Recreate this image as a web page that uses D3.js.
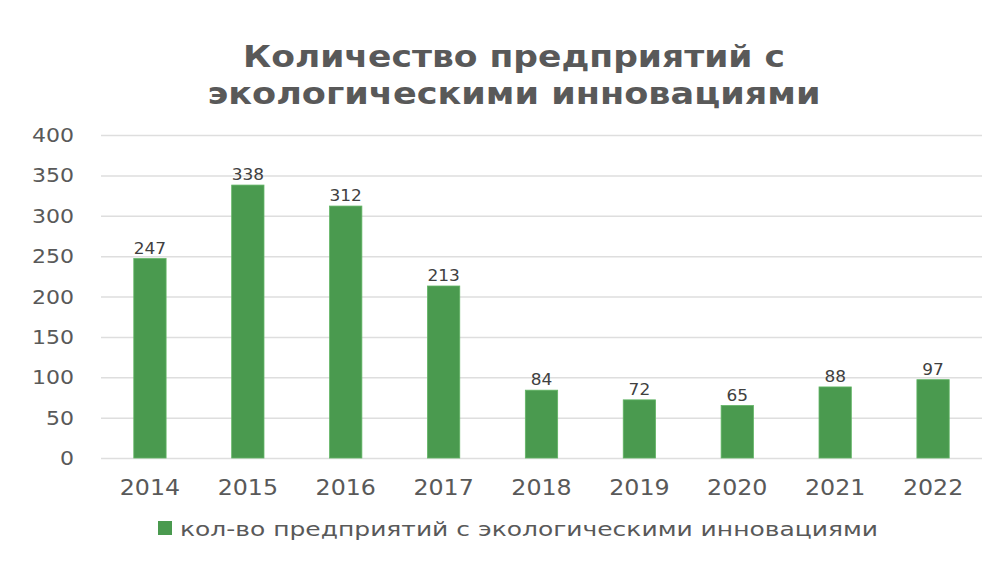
<!DOCTYPE html>
<html><head><meta charset="utf-8">
<script src="https://cdn.jsdelivr.net/npm/d3@7"></script>
<style>body{margin:0;background:#fff}</style>
</head><body>
<svg id="c" width="994" height="573"></svg>
<script>
const categories = ["2014","2015","2016","2017","2018","2019","2020","2021","2022"];
const values = [247,338,312,213,84,72,65,88,97];
const yTicks = [0,50,100,150,200,250,300,350,400];
const titleLines = ["Количество предприятий с","экологическими инновациями"];
const seriesName = "кол-во предприятий с экологическими инновациями";

(function(){
const svg = d3.select("#c");
const W=994,H=573;
svg.append("rect").attr("width",W).attr("height",H).attr("fill","#fff");
const pL=101,pR=982,pT=135,pB=458;
const x=d3.scaleBand().domain(categories).range([pL,pR]).paddingInner(0.67).paddingOuter(0.335);
const y=d3.scaleLinear().domain([0,400]).range([pB,pT]);
const font="'DejaVu Sans', Verdana, sans-serif";
const sx=1.13;
function txt(g,xx,yy,s,size,anchor,color,weight){
  return g.append("text").attr("transform",`translate(${xx},${yy}) scale(${sx},1)`)
   .attr("text-anchor",anchor).attr("font-family",font).attr("font-size",size)
   .attr("fill",color).attr("font-weight",weight||"normal").text(s);
}
const ga=svg.append("g").attr("transform",`translate(${pL},0)`)
  .call(d3.axisLeft(y).tickValues(yTicks).tickSize(-(pR-pL)).tickFormat(""));
ga.select(".domain").remove();
ga.selectAll("line").attr("stroke","#dedede").attr("stroke-width",1.5);
yTicks.forEach(t=>txt(svg,74,y(t)+7,String(t),19.5,"end","#595959"));
svg.selectAll("rect.bar").data(values).join("rect").attr("class","bar")
  .attr("x",(d,i)=>x(categories[i])).attr("width",x.bandwidth())
  .attr("y",d=>y(d)).attr("height",d=>y(0)-y(d))
  .attr("fill","#4a9a4f").attr("stroke","#62b565").attr("stroke-width",0.8);
values.forEach((v,i)=>txt(svg,x(categories[i])+x.bandwidth()/2,y(v)-5,String(v),15,"middle","#404040"));
categories.forEach(c=>txt(svg,x(c)+x.bandwidth()/2,495,c,21,"middle","#595959"));
const tl=[[67,542],[104,613]];
titleLines.forEach((s,i)=>{
  svg.append("text").attr("x",W/2+17).attr("y",tl[i][0]).attr("text-anchor","middle")
   .attr("font-family",font).attr("font-size",30).attr("font-weight","bold").attr("fill","#595959")
   .attr("textLength",tl[i][1]).attr("lengthAdjust","spacingAndGlyphs").text(s);
});
svg.append("rect").attr("x",158).attr("y",521).attr("width",14).attr("height",14).attr("fill","#4a9a4f");
svg.append("text").attr("x",180).attr("y",536).attr("font-family",font).attr("font-size",19.5)
  .attr("fill","#595959").attr("textLength",698).attr("lengthAdjust","spacingAndGlyphs").text(seriesName);
})();
</script>
</body></html>
